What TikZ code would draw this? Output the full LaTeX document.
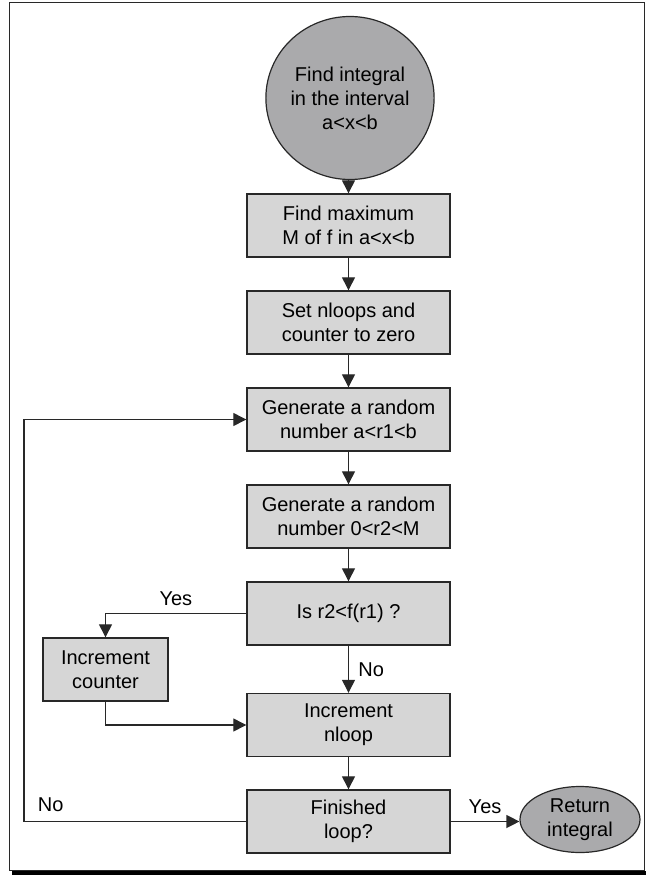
\documentclass[tikz,border=0pt]{standalone}
\usepackage{fontspec}
\setmainfont{Liberation Sans}
\usetikzlibrary{arrows.meta, positioning, shapes.geometric}
\definecolor{boxgray}{RGB}{214, 214, 214}
\definecolor{termgray}{RGB}{170, 170, 172}
\definecolor{edgegray}{RGB}{40, 40, 40}

\tikzset{
    process/.style={draw=edgegray, line width=1.4pt, fill=boxgray, minimum width=203pt,
        minimum height=63pt, inner sep=0pt, align=center, font=\fontsize{20}{24}\selectfont},
    terminal/.style={draw=edgegray, line width=1.2pt, fill=termgray, ellipse, inner sep=0pt,
        align=center, font=\fontsize{20}{24}\selectfont},
    flow/.style={line width=1.3pt, draw=edgegray, -{Triangle[length=13pt, width=13pt]}},
    lbl/.style={font=\fontsize{20}{24}\selectfont}
}

\begin{document}
\begin{tikzpicture}[x=1pt, y=-1pt]
    \useasboundingbox (0,0) rectangle (646,875);
    % frame with shadow
    \fill[black] (12,870.5) rectangle (646,875);
    \draw[line width=1pt, draw=edgegray] (9,3) rectangle (644,870);

    \node[terminal, minimum width=144pt, minimum height=163pt] (start) at (350,98)
        {Find integral\\in the interval\\a<x<b};
    \node[process] (findmax) at (348.5,225.5) {Find maximum\\M of f in a<x<b};
    \node[process] (setzero) at (348.5,322.5) {Set nloops and\\counter to zero};
    \node[process] (genrone) at (348.5,419.5) {Generate a random\\number a<r1<b};
    \node[process] (genrtwo) at (348.5,516.5) {Generate a random\\number 0<r2<M};
    \node[process] (test) at (348.5,613.5) {Is r2<f(r1) ?};
    \node[process, minimum width=125pt] (inccount) at (105.5,669.5) {Increment\\counter};
    \node[process] (incnloop) at (348.5,725) {Increment\\nloop};
    \node[process] (finished) at (348.5,821.5) {Finished\\loop?};
    \node[terminal, minimum width=120pt, minimum height=66pt] (result) at (580,819.5)
        {Return\\integral};

    \draw[flow] (start.south -| findmax.north) -- (findmax);
    \draw[flow] (findmax) -- (setzero);
    \draw[flow] (setzero) -- (genrone);
    \draw[flow] (genrone) -- (genrtwo);
    \draw[flow] (genrtwo) -- (test);
    \draw[flow] (test) -- node[lbl, right=6pt] {No} (incnloop);
    \draw[flow] (incnloop) -- (finished);

    % yes branch of the test
    \draw[flow] (test.west) -| node[lbl, pos=0.25, above=4pt] {Yes} (inccount.north);
    \draw[flow] (inccount.south) |- (incnloop.west);

    % end of loop
    \draw[flow] (finished.east) -- node[lbl, above=4pt] {Yes} (finished.east -| result.west);
    \coordinate (loopcorner) at (24,821.5);
    \draw[flow] (finished.west) -- (loopcorner) node[lbl, above right=6pt and 10pt] {No}
        |- (genrone.west);
\end{tikzpicture}
\end{document}
